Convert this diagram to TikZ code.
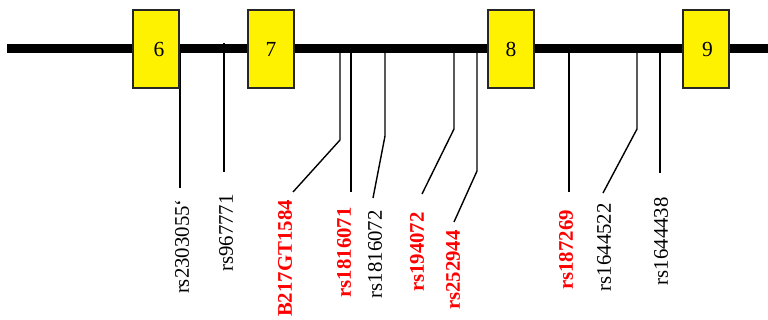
\documentclass[tikz,border=0pt]{standalone}
\usepackage{fontspec}
\setmainfont{Liberation Serif}
\begin{document}
\begin{tikzpicture}[x=1pt,y=-1pt,
  exon/.style={draw=black!85, line width=1.2pt, fill=yellow, minimum width=46pt,
    minimum height=78pt, inner sep=0pt, font=\fontsize{21.5}{24}\selectfont},
  snp/.style={rotate=90, anchor=east, inner sep=0pt, font=\fontsize{20.8}{24}\selectfont},
  hit/.style={snp, text=red, font=\fontsize{20.8}{24}\selectfont\bfseries},
  lead/.style={line width=1.4pt, line join=miter},
  gene/.style={line width=9pt}]
\useasboundingbox (0,0) rectangle (768,320);

% anchor points of the SNP leads on the gene line
\coordinate (a1) at (180,49);
\coordinate (a2) at (224,43);
\coordinate (a3) at (340,49);
\coordinate (a4) at (351,49);
\coordinate (a5) at (385,49);
\coordinate (a6) at (454,49);
\coordinate (a7) at (477,49);
\coordinate (a8) at (569,49);
\coordinate (a9) at (637,49);
\coordinate (a10) at (660,49);

% bends
\coordinate (b3) at (340,140);
\coordinate (b5) at (385,136);
\coordinate (b6) at (454,129);
\coordinate (b7) at (477,171);
\coordinate (b9) at (637,129);

% lower ends of the leads
\coordinate (e1) at (180,188);
\coordinate (e2) at (224,172);
\coordinate (e3) at (293,192);
\coordinate (e4) at (351,192);
\coordinate (e5) at (373,198);
\coordinate (e6) at (422,194);
\coordinate (e7) at (454,222);
\coordinate (e8) at (569,192);
\coordinate (e9) at (603,193);
\coordinate (e10) at (660,173);

% leads
\draw[lead] (a1) -- (e1);
\draw[lead] (a2) -- (e2);
\draw[lead] (a3) -- (b3) -- (e3);
\draw[lead] (a4) -- (e4);
\draw[lead] (a5) -- (b5) -- (e5);
\draw[lead] (a6) -- (b6) -- (e6);
\draw[lead] (a7) -- (b7) -- (e7);
\draw[lead] (a8) -- (e8);
\draw[lead] (a9) -- (b9) -- (e9);
\draw[lead] (a10) -- (e10);

% gene line
\coordinate (g0) at (7,49);
\coordinate (g1) at (768,49);
\draw[gene] (g0) -- (g1);

% exons
\node[exon] (x6) at (156,49) {\hspace*{6pt}6};
\node[exon] (x7) at (271,49) {7};
\node[exon] (x8) at (511,49) {\raisebox{-3pt}{8}};
\node[exon] (x9) at (706,49) {\hspace*{3pt}9};

% SNP labels
\node[snp] (l1) at (182,199) {rs2303055\symbol{"60}};
\node[snp] (l2) at (226,194) {rs967771};
\node[hit] (l3) at (285,200) {B217GT1584};
\node[hit] (l4) at (344,207) {rs1816071};
\node[snp] (l5) at (375,210) {rs1816072};
\node[hit] (l6) at (417,212) {rs194072};
\node[hit] (l7) at (453,230) {rs252944};
\node[hit] (l8) at (566,210) {rs187269};
\node[snp] (l9) at (604,203) {rs1644522};
\node[snp] (l10) at (661,197) {rs1644438};
\end{tikzpicture}
\end{document}
